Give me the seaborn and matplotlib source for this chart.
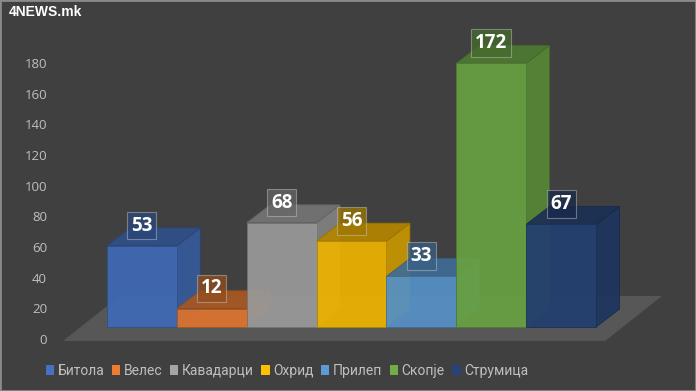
import matplotlib
matplotlib.use("Agg")
import matplotlib.pyplot as plt
import matplotlib.colors as mcolors
from matplotlib.patches import Polygon, Rectangle
import seaborn as sns

# -----------------------------
# Data
# -----------------------------
cities = ["Битола", "Велес", "Кавадарци", "Охрид", "Прилеп", "Скопје", "Струмица"]
values = [53, 12, 68, 56, 33, 172, 67]
colors = ["#4472C4", "#ED7D31", "#A5A5A5", "#FFC000", "#5B9BD5", "#70AD47", "#264478"]
yticks = [0, 20, 40, 60, 80, 100, 120, 140, 160, 180]
title = "4NEWS.mk"

# -----------------------------
# Style
# -----------------------------
sns.set_theme(style="white")
plt.rcParams["font.family"] = ["Open Sans", "DejaVu Sans"]

BG = "#404040"
TXT = "#bfbfbf"
W, H, DPI = 696, 391, 100
PX = 1.533          # pixels per value unit
UNIT_X = 69.86      # pixels per category
DEPTH = (0.336, 11.7)   # bar depth offset (x units, y units)

def shade(c, f):
    r, g, b = mcolors.to_rgb(c)
    return (r * f, g * f, b * f)

fig = plt.figure(figsize=(W / DPI, H / DPI), dpi=DPI)
fig.patch.set_facecolor(BG)

# bars axes covering whole figure
ax = fig.add_axes([0, 0, 1, 1])
ax.set_facecolor("none")

# tick axes (Excel puts the value axis slightly lower)
tax = fig.add_axes([54 / W, 0, 0.001, 1])
tick_base = H - 339
tax.set_ylim(-tick_base / PX, (H - tick_base) / PX)
tax.set_yticks(yticks)
tax.set_yticklabels([str(t) for t in yticks])
tax.tick_params(axis="y", length=0, pad=5, labelsize=9.5, labelcolor=TXT)
tax.set_xticks([])
for s in tax.spines.values():
    s.set_visible(False)
tax.set_facecolor("none")

sns.barplot(x=cities, y=values, hue=cities, palette=colors, width=1.0,
            legend=False, ax=ax, saturation=1)

x0_px, base_px = 107, H - 327
ax.set_xlim(-0.5 - x0_px / UNIT_X, -0.5 + (W - x0_px) / UNIT_X)
ax.set_ylim(-base_px / PX, (H - base_px) / PX)
ax.axis("off")

dx, dy = DEPTH
bars = ax.patches[:len(values)]

# floor under the bars
left = min(b.get_x() for b in bars)
right = max(b.get_x() + b.get_width() for b in bars)
fx, fy = 0.63, -9.1
floor = Polygon([(left - fx, fy), (right + 0.13, fy),
                 (right + 0.13 + 0.816, fy + 29.4), (left - fx + 0.816, fy + 29.4)],
                closed=True, facecolor="#575757", edgecolor="none", zorder=1)
ax.add_patch(floor)

for i, (b, c, v) in enumerate(zip(bars, colors, values)):
    x, w, h = b.get_x(), b.get_width(), b.get_height()
    b.set_facecolor(shade(c, 0.93))
    b.set_alpha(0.93)
    b.set_edgecolor(shade(c, 0.7))
    b.set_linewidth(0.6)
    b.set_zorder(3 + 2 * i)
    side = Polygon([(x + w, 0), (x + w + dx, dy), (x + w + dx, h + dy), (x + w, h)],
                   closed=True, facecolor=shade(c, 0.78), edgecolor=shade(c, 0.6),
                   linewidth=0.6, alpha=0.93, zorder=2 + 2 * i)
    top = Polygon([(x, h), (x + w, h), (x + w + dx, h + dy), (x + dx, h + dy)],
                  closed=True, facecolor=shade(c, 0.7), edgecolor=shade(c, 0.6),
                  linewidth=0.6, alpha=0.93, zorder=2 + 2 * i)
    ax.add_patch(side)
    ax.add_patch(top)
    fc = shade(c, 0.62) + (0.75,)
    ax.text(x + w / 2, h + dy + 1.5, str(v), ha="center", va="center", color="white",
            fontsize=13.5, fontweight="bold", zorder=40,
            bbox=dict(boxstyle="square,pad=0.2", facecolor=fc,
                      edgecolor=(0.8, 0.8, 0.8, 0.45), linewidth=0.8))

# legend
handles = [Rectangle((0, 0), 1, 1, facecolor=c, edgecolor="none") for c in colors]
fig.legend(handles, cities, ncol=7, loc="center", bbox_to_anchor=(287 / W, 20 / H),
           frameon=False, handlelength=0.6, handleheight=0.75, handletextpad=0.25,
           columnspacing=0.55, prop={"family": ["Roboto", "DejaVu Sans"], "size": 10},
           labelcolor=TXT)

fig.text(9 / W, 1 - 12 / H, title, ha="left", va="center", color="white",
         fontsize=10, fontweight="bold", family=["Liberation Sans", "DejaVu Sans"])

fig.patches.append(Rectangle((0, 0), 1, 1, transform=fig.transFigure, fill=False,
                             edgecolor="#8a8a8a", linewidth=2))

fig.savefig("out.png", dpi=DPI, facecolor=BG)
